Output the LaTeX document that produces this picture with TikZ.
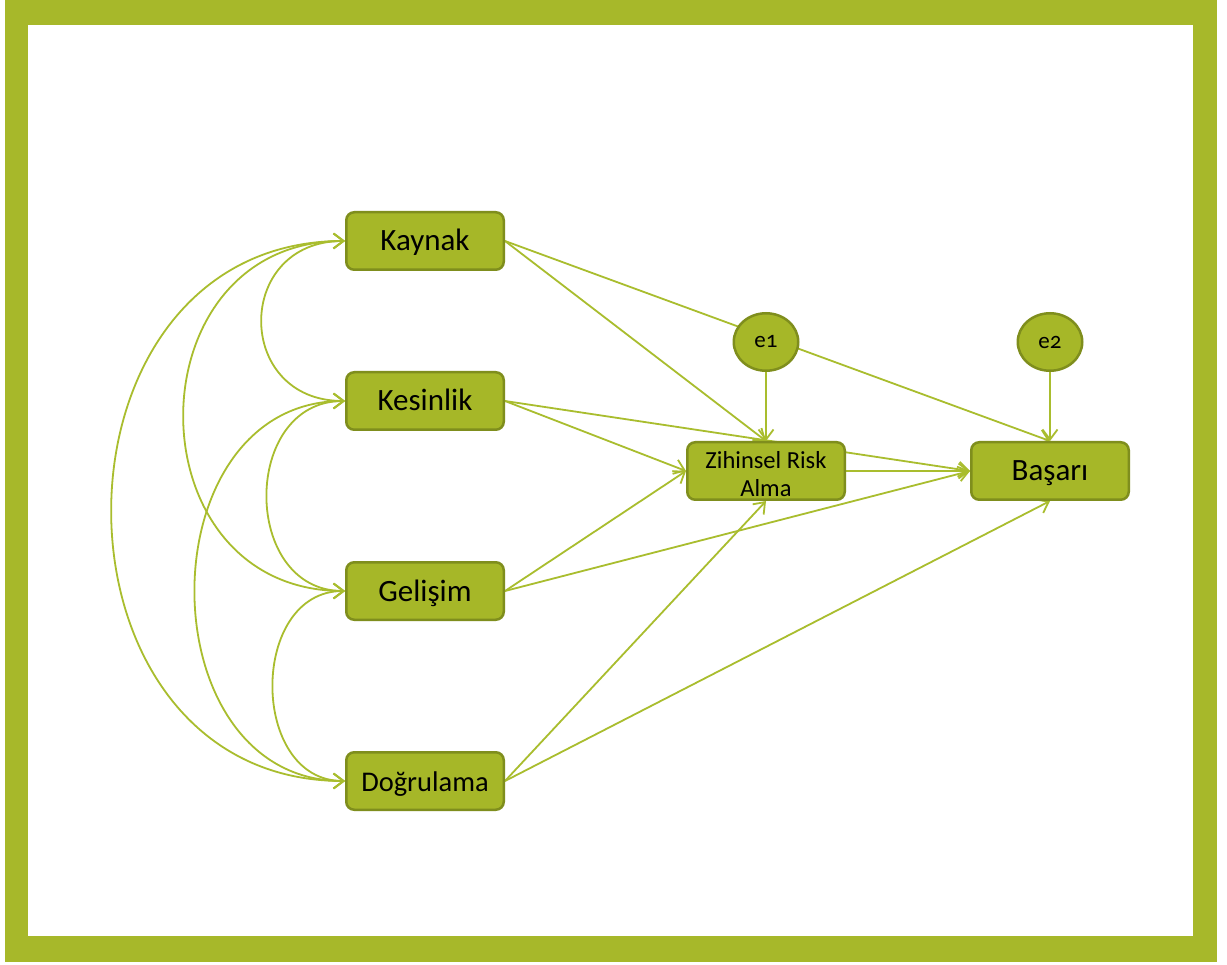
\documentclass[tikz,border=0pt]{standalone}
\usepackage{fontspec}
\setmainfont{Carlito}
\newfontfamily\oldnums[Numbers=OldStyle]{Carlito}
\usetikzlibrary{arrows.meta,shapes.geometric}

\definecolor{frameGreen}{HTML}{A7B82A}
\definecolor{boxFill}{HTML}{A6B728}
\definecolor{boxLine}{HTML}{7F8E1D}
\definecolor{linkGreen}{HTML}{A9BD2E}

\pgfdeclarelayer{back}
\pgfdeclarelayer{links}
\pgfsetlayers{back,links,main}

\tikzset{
  box/.style={draw=boxLine, fill=boxFill, line width=2.5pt, rounded corners=8pt,
    minimum width=157.5pt, minimum height=57.5pt, inner sep=0pt, text=black,
    text height=25pt, text depth=5pt,
    font=\fontsize{31}{36}\selectfont},
  twoline/.style={align=center, inner sep=0pt, text=black,
    font=\fontsize{24.5}{28.5}\selectfont},
  errterm/.style={ellipse, draw=boxLine, fill=boxFill, line width=2.5pt,
    minimum width=64.5pt, minimum height=57.5pt, inner sep=0pt, text=black,
    font=\oldnums\fontsize{23}{27}\selectfont},
  barb/.tip={Straight Barb[length=10pt,width=15pt]},
  link/.style={draw=linkGreen, line width=1.8pt, -barb},
  cov/.style={draw=linkGreen, line width=1.8pt, barb-barb},
}

\begin{document}
\begin{tikzpicture}[x=1pt,y=-1pt]
\useasboundingbox (0,0) rectangle (1227,965);

% frame
\begin{pgfonlayer}{back}
  \fill[white] (0,0) rectangle (1227,965);
  \fill[frameGreen] (5,0) rectangle (1217,962);
  \fill[white] (28,25) rectangle (1193,936);
\end{pgfonlayer}

% variables
\node[box] (kaynak)   at (425,241) {Kaynak};
\node[box] (kesinlik) at (425,401) {Kesinlik};
\node[box] (gelisim)  at (425,591) {Gelişim};
\node[box, font=\fontsize{28.5}{33}\selectfont] (dogrulama) at (425,781) {Doğrulama};
\node[box, label={[twoline, yshift=-3pt]center:Zihinsel Risk\\Alma}] (zihin) at (766,471) {};
\node[box] (basari) at (1050,471) {Başarı};
\node[errterm] (e1) at (766,342) {e1};
\node[errterm] (e2) at (1050,342) {e2};

\begin{pgfonlayer}{links}
  % covariances among the predictors
  \draw[cov] (kaynak.west) .. controls +(-111,0) and +(-111,0) .. (kesinlik.west);
  \draw[cov] (kesinlik.west) .. controls +(-104,0) and +(-104,0) .. (gelisim.west);
  \draw[cov] (gelisim.west) .. controls +(-96,0) and +(-96,0) .. (dogrulama.west);
  \draw[cov] (kaynak.west) .. controls +(-215,0) and +(-215,0) .. (gelisim.west);
  \draw[cov] (kesinlik.west) .. controls +(-200,0) and +(-200,0) .. (dogrulama.west);
  \draw[cov] (kaynak.west) .. controls +(-311,0) and +(-311,0) .. (dogrulama.west);

  % direct paths
  \draw[link] (kaynak.east) -- (zihin.north);
  \draw[link] (kaynak.east) -- (basari.north);
  \draw[link] (kesinlik.east) -- (zihin.west);
  \draw[link] (kesinlik.east) -- (basari.west);
  \draw[link] (gelisim.east) -- (zihin.west);
  \draw[link] (gelisim.east) -- (basari.west);
  \draw[link] (dogrulama.east) -- (zihin.south);
  \draw[link] (dogrulama.east) -- (basari.south);
  \draw[link] (zihin.east) -- (basari.west);
  \draw[link] (e1) -- (zihin.north);
  \draw[link] (e2) -- (basari.north);
\end{pgfonlayer}
\end{tikzpicture}
\end{document}
